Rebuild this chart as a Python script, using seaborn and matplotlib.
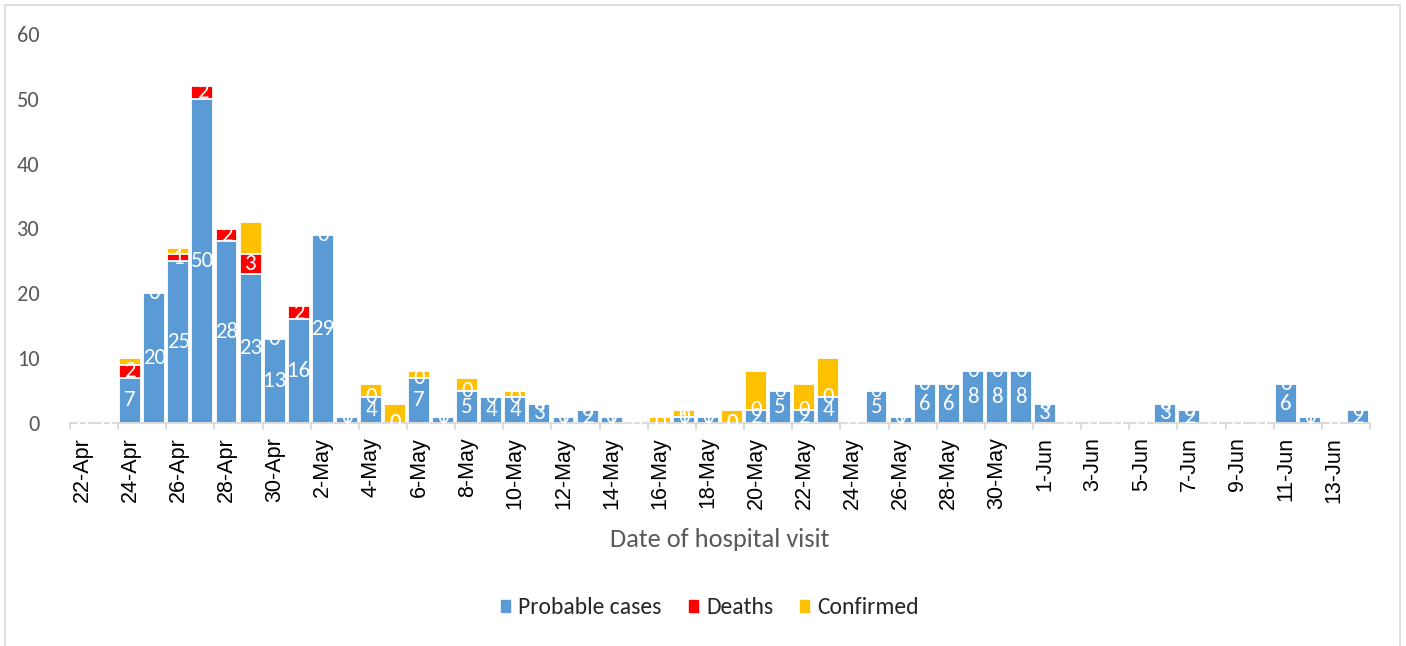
import matplotlib
matplotlib.use("Agg")
import matplotlib.pyplot as plt
import matplotlib.patches as mpatches
import seaborn as sns
import pandas as pd
import numpy as np

# Daily counts by date of hospital visit, 22-Apr to 14-Jun
dates = pd.date_range("2020-04-22", "2020-06-14", freq="D")
probable = [0, 0, 7, 20, 25, 50, 28, 23, 13, 16,
            29, 1, 4, 0, 7, 1, 5, 4, 4, 3,
            1, 2, 1, 0, 0, 1, 1, 0, 2, 5,
            2, 4, 0, 5, 1, 6, 6, 8, 8, 8,
            3, 0, 0, 0, 0, 3, 2, 0, 0, 0,
            6, 1, 0, 2]
deaths = [0, 0, 2, 0, 1, 2, 2, 3, 0, 2,
          0, 0, 0, 0, 0, 0, 0, 0, 0, 0,
          0, 0, 0, 0, 0, 0, 0, 0, 0, 0,
          0, 0, 0, 0, 0, 0, 0, 0, 0, 0,
          0, 0, 0, 0, 0, 0, 0, 0, 0, 0,
          0, 0, 0, 0]
confirmed = [0, 0, 1, 0, 1, 0, 0, 5, 0, 0,
             0, 0, 2, 3, 1, 0, 2, 0, 1, 0,
             0, 0, 0, 0, 1, 1, 0, 2, 6, 0,
             4, 6, 0, 0, 0, 0, 0, 0, 0, 0,
             0, 0, 0, 0, 0, 0, 0, 0, 0, 0,
             0, 0, 0, 0]
labels = [f"{d.day}-{d.strftime('%b')}" for d in dates]

BLUE, RED, YELLOW = "#5B9BD5", "#FF0000", "#FFC000"
CALIBRI = ["Carlito", "Lato", "DejaVu Sans"]

df = pd.DataFrame({"date": labels, "probable": probable,
                   "deaths": deaths, "confirmed": confirmed})
df["pd"] = df["probable"] + df["deaths"]
df["total"] = df["pd"] + df["confirmed"]

sns.set_style("white")
plt.rcParams["font.family"] = CALIBRI

fig = plt.figure(figsize=(14.06, 6.46), dpi=100)
ax = fig.add_axes([70 / 1406, 1 - 423 / 646, 1300 / 1406, (423 - 34) / 646])

# Stacked bars drawn as overlaid cumulative totals
bar_kw = dict(width=0.91, edgecolor="white", linewidth=1.3, errorbar=None)
sns.barplot(data=df, x="date", y="total", color=YELLOW, ax=ax, saturation=1, **bar_kw)
sns.barplot(data=df, x="date", y="pd", color=RED, ax=ax, saturation=1, **bar_kw)
sns.barplot(data=df, x="date", y="probable", color=BLUE, ax=ax, saturation=1, **bar_kw)

# Value labels for probable cases and deaths
for i, row in df.iterrows():
    ax.text(i, row["probable"] / 2, str(row["probable"]), ha="center", va="center",
            color="white", fontsize=16.5, zorder=6, clip_on=False)
    ax.text(i, row["probable"] + row["deaths"] / 2, str(row["deaths"]), ha="center",
            va="center", color="white", fontsize=16.5, zorder=6, clip_on=False)

ax.set_xlim(-0.5, len(df) - 0.5)
ax.set_ylim(0, 60)
ax.set_yticks(range(0, 61, 10))
ax.tick_params(axis="y", length=0, labelsize=16, labelcolor="#595959", pad=22)

ax.set_xticks(range(0, len(df), 2))
ax.set_xticklabels(labels[::2], rotation=90, fontsize=15.5,
                   family=["Liberation Sans", "DejaVu Sans"], color="black")
ax.tick_params(axis="x", length=0, pad=10)
# Tick marks between categories, every second boundary
for b in np.arange(-0.5, len(df), 2):
    ax.plot([b, b], [0, -0.016], transform=ax.get_xaxis_transform(),
            color="#D9D9D9", lw=1.3, clip_on=False, zorder=1)

for s in ["left", "right", "top"]:
    ax.spines[s].set_visible(False)
ax.spines["bottom"].set_color("#D9D9D9")
ax.spines["bottom"].set_linewidth(1.3)
ax.spines["bottom"].set_zorder(1)

ax.set_xlabel("Date of hospital visit", fontsize=19, color="#595959", labelpad=14)
ax.set_ylabel("")

handles = [mpatches.Patch(color=BLUE, label="Probable cases"),
           mpatches.Patch(color=RED, label="Deaths"),
           mpatches.Patch(color=YELLOW, label="Confirmed")]
fig.legend(handles=handles, loc="center", bbox_to_anchor=(0.505, 1 - 608 / 646),
           ncol=3, frameon=False, fontsize=17, handlelength=0.38, handleheight=0.42,
           handletextpad=0.35, columnspacing=1.15)

# Chart area border
fig.patches.append(mpatches.Rectangle((5 / 1406, -0.01), 1395 / 1406, 1 - 5 / 646 + 0.01,
                                      transform=fig.transFigure, fill=False,
                                      edgecolor="#D9D9D9", lw=1.2))

fig.savefig("out.png", dpi=100)
